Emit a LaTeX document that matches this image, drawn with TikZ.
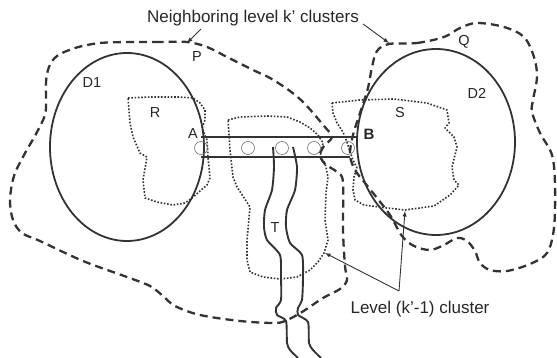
\documentclass[tikz,border=0pt]{standalone}
\usepackage{amsmath}
\usepackage{fontspec}
\setmainfont{Liberation Sans}
\usetikzlibrary{calc}

\begin{document}
\begin{tikzpicture}[x=1pt, y=-1pt, line join=round,
        ink/.style={draw=black!80},
        disk/.style={ink, line width=1.8pt},
        cluster/.style={ink, line width=2.3pt, dash pattern=on 8pt off 5pt},
        subcluster/.style={ink, line width=1.6pt, dash pattern=on 1.6pt off 1.7pt},
        road/.style={ink, line width=1.9pt},
        relay/.style={draw=black!55, line width=0.6pt},
        pointer/.style={->, >=latex, draw=black!80, line width=0.9pt},
        tag/.style={inner sep=0pt, text=black!85, font=\fontsize{14.5}{16}\selectfont},
        caption/.style={inner sep=0pt, text=black!85, font=\fontsize{17}{20}\selectfont, anchor=base}]
            \useasboundingbox (0, 0) rectangle (557, 358);

            \draw [cluster] plot [smooth cycle, tension=0.55] coordinates {
                (187, 42) (160, 42) (133, 42) (100, 43) (75, 48) (57, 56) (49, 67) (46, 82)
                (46, 100) (45, 115) (36, 134) (24, 155) (14, 176) (10, 200) (13, 220) (22, 233)
                (40, 241) (83, 261) (127, 277) (150, 286) (163, 296) (175, 306) (200, 315) (240, 321)
                (273, 323) (285, 321) (302, 312) (323, 298) (340, 289) (347, 280) (345, 266) (343, 230)
                (343, 182) (337, 172) (325, 164) (320, 155) (324, 146) (332, 137) (324, 126) (305, 104)
                (290, 91) (270, 78) (253, 70) (227, 57) (207, 47)};
            \draw [cluster] plot [smooth cycle, tension=0.55] coordinates {
                (389, 44) (417, 43) (444, 37) (460, 28) (477, 23) (504, 27) (524, 37) (534, 57)
                (537, 77) (533, 100) (532, 112) (540, 133) (552, 155) (555, 185) (554, 228) (547, 253)
                (530, 264) (507, 271) (490, 270) (480, 263) (475, 251) (467, 241) (457, 238) (444, 245)
                (430, 250) (414, 246) (402, 236) (390, 215) (377, 198) (365, 183) (355, 170) (350, 155)
                (353, 135) (361, 110) (368, 88) (372, 67) (377, 51)};

            \draw [disk] (127, 147) ellipse [x radius=77pt, y radius=94pt];
            \draw [disk] (436, 142) ellipse [x radius=79pt, y radius=93pt];

            \draw [subcluster] (128, 98) -- (150, 97) -- (180, 97) -- (193, 98) -- (200, 103)
                -- (205, 110) -- (205, 120) -- (202, 128) -- (207, 140) -- (208, 157) -- (210, 178)
                -- (207, 185) -- (200, 191) -- (192, 198) -- (185, 203) -- (173, 205) -- (157, 202)
                -- (145, 198) -- (143, 180) -- (147, 157) -- (140, 153) -- (133, 137) -- (130, 123) -- cycle;
            \draw [subcluster] (332, 103) -- (360, 100) -- (394, 99) -- (427, 103) -- (447, 110)
                -- (449, 123) -- (445, 128) -- (454, 137) -- (457, 147) -- (452, 167) -- (454, 180)
                -- (459, 185) -- (450, 195) -- (434, 206) -- (405, 210) -- (387, 208) -- (364, 205)
                -- (355, 200) -- (353, 190) -- (354, 177) -- (357, 168) -- (353, 160) -- (350, 152)
                -- (347, 142) -- (343, 132) -- (337, 123) -- (333, 113) -- cycle;
            \draw [subcluster] (228, 120) -- (240, 117) -- (267, 116) -- (287, 117) -- (300, 122)
                -- (310, 128) -- (318, 135) -- (323, 143) -- (320, 157) -- (325, 163) -- (328, 177)
                -- (326, 193) -- (325, 220) -- (328, 240) -- (324, 253) -- (318, 262) -- (310, 270)
                -- (297, 277) -- (280, 279) -- (263, 277) -- (250, 272) -- (247, 260) -- (247, 240)
                -- (250, 207) -- (237, 187) -- (233, 177) -- (230, 150) -- cycle;

            \draw [road] (201, 137) -- (358, 137);
            \draw [road] (201, 157) -- (350, 157);
            \foreach \x in {201, 248, 282, 314, 348}
                \draw [relay] (\x, 148) circle [radius=6.5pt];

            \draw [road] plot [smooth, tension=0.4] coordinates {
                (273, 147) (274, 167) (272, 190) (265, 210) (264, 227) (267, 240) (280, 255) (281, 277)
                (281, 300) (276, 308) (277, 315) (286, 321) (287, 343) (290, 350) (298, 358)};
            \draw [road] plot [smooth, tension=0.4] coordinates {
                (293, 147) (297, 167) (295, 190) (287, 210) (286, 227) (290, 243) (302, 255) (303, 277)
                (302, 300) (298, 308) (298, 315) (308, 322) (309, 343) (313, 350) (321, 358)};

            \node [tag] (P) at (197, 57) {P};
            \node [tag] (Q) at (464, 42) {Q};
            \node [tag] (D1) at (92, 83) {D1};
            \node [tag] (D2) at (477, 93) {D2};
            \node [tag] (R) at (155, 113) {R};
            \node [tag] (S) at (400, 113) {S};
            \node [tag] (A) at (193, 134) {A};
            \node [tag, font=\fontsize{15}{16}\selectfont\bfseries] (B) at (369, 134) {B};
            \node [tag] (T) at (275, 228) {T};

            \node [caption] (nbtext) at (253, 22.7) {Neighboring level k’ clusters};
            \node [caption] (lvtext) at (420, 313) {Level (k’-1) cluster};

            \coordinate (nbfoot) at (201, 29);
            \coordinate (clfoot) at (363, 24);
            \coordinate (lvfoot) at (399, 291);
            \coordinate (ptip) at (187, 43);
            \coordinate (qtip) at (389, 43);
            \coordinate (mtip) at (325, 253);
            \coordinate (stip) at (405, 211);

            \draw [pointer] (nbfoot) -- (ptip);
            \draw [pointer] (clfoot) -- (qtip);
            \draw [pointer] (lvfoot) -- (mtip);
            \draw [pointer] (lvfoot) -- (stip);
        \end{tikzpicture}
\end{document}
